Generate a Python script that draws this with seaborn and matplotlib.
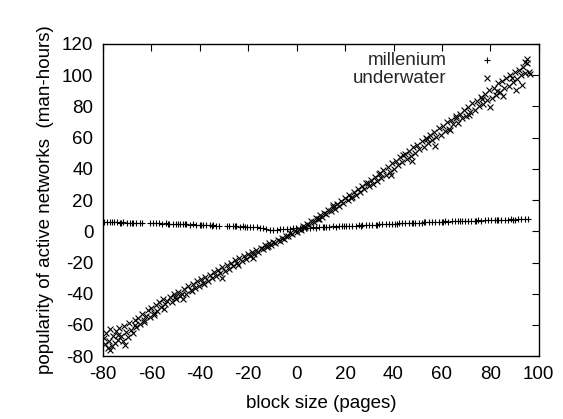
import numpy as np
import pandas as pd
import matplotlib
matplotlib.use("Agg")
import matplotlib.pyplot as plt
import seaborn as sns

# ------------------------------------------
# data
# ------------------------------------------
MILL_X = [-79.5, -78.2, -77.0, -75.6, -74.1, -73.0, -71.8, -70.2, -69.0, -67.5,
          -66.3, -64.9, -63.8, -60.7, -59.4, -58.0, -56.8, -55.5, -54.0, -52.6,
          -51.3, -50.0, -48.4, -47.1, -45.8, -44.2, -43.0, -41.5, -40.1, -38.8,
          -37.4, -36.0, -34.7, -33.2, -32.1, -28.6, -27.8, -26.3, -24.9, -23.5,
          -22.2, -20.7, -19.4, -18.0, -16.6, -15.2, -13.9, -12.5, -11.0, -9.7,
          -8.3, -7.0, -5.6, -4.2, -2.9, -1.5, -0.2, 1.2, 2.5, 3.9,
          5.3, 6.6, 8.0, 9.4, 10.7, 12.1, 13.5, 14.8, 16.2, 17.6,
          18.9, 20.3, 21.7, 23.0, 24.4, 25.8, 27.1, 28.5, 29.9, 31.2,
          32.6, 34.0, 35.3, 36.7, 38.1, 39.4, 40.8, 42.2, 43.5, 44.9,
          46.3, 47.6, 49.0, 50.4, 51.7, 53.1, 54.5, 55.8, 57.2, 58.6,
          59.9, 61.3, 62.7, 64.0, 65.4, 66.8, 68.1, 69.5, 70.9, 72.2,
          73.6, 75.0, 76.3, 77.7, 79.1, 80.4, 81.8, 83.2, 84.5, 85.9,
          87.3, 88.6, 90.0, 91.4, 92.7, 94.1, 95.5,
          -76.3, -72.4, -68.1, -53.3, -49.2, -46.0, -39.6, -35.1, -25.5, -21.4,
          11.3, 19.6, 26.4, 33.0, 41.4, 48.2, 52.5, 60.6, 67.3, 74.2, 82.6, 89.3]
MILL_Y = [6.1, 5.8, 6.0, 5.7, 5.9, 5.6, 5.8, 5.4, 5.6, 5.3,
          5.5, 5.2, 5.4, 5.1, 5.3, 5.0, 5.2, 4.8, 5.0, 4.7,
          4.9, 4.6, 4.8, 4.4, 4.6, 4.3, 4.5, 4.1, 4.3, 4.0,
          4.1, 3.8, 3.9, 3.6, 3.7, 3.3, 3.5, 3.1, 3.3, 2.9,
          3.1, 2.7, 2.8, 2.5, 2.6, 2.2, 2.3, 1.6, 1.1, 0.7,
          0.9, 1.3, 1.5, 1.7, 1.6, 1.9, 2.0, 2.1, 2.0, 2.3,
          2.2, 2.5, 2.4, 2.7, 2.6, 2.9, 2.8, 3.1, 3.0, 3.3,
          3.2, 3.5, 3.4, 3.7, 3.6, 3.9, 3.8, 4.1, 4.0, 4.3,
          4.2, 4.5, 4.4, 4.7, 4.6, 4.9, 4.8, 5.1, 5.0, 5.3,
          5.2, 5.5, 5.3, 5.6, 5.5, 5.8, 5.7, 6.0, 5.9, 6.2,
          6.0, 6.3, 6.2, 6.5, 6.4, 6.6, 6.5, 6.8, 6.7, 6.9,
          6.8, 7.1, 6.9, 7.2, 7.0, 7.3, 7.2, 7.4, 7.3, 7.5,
          7.4, 7.6, 7.5, 7.7, 7.6, 7.8, 7.7,
          5.9, 5.5, 5.4, 4.9, 4.7, 4.4, 4.1, 3.7, 3.2, 2.8,
          2.9, 3.4, 3.7, 4.3, 4.8, 5.4, 5.8, 6.1, 6.6, 6.9, 7.4, 7.5]

UNDER_X = [-79.8, -79.2, -78.9, -78.1, -77.6, -77.0, -76.4, -75.9, -75.1, -74.6,
           -73.8, -73.2, -72.5, -71.9, -71.2, -70.6, -69.8, -69.1, -68.4, -67.7,
           -66.9, -66.2, -65.5, -64.7, -63.9, -63.1, -62.4, -61.6, -60.8, -60.0,
           -59.1, -58.3, -57.6, -56.8, -55.9, -55.1, -54.2, -53.4, -52.5, -51.7,
           -50.8, -49.9, -49.0, -48.2, -47.3, -46.4, -45.6, -44.7, -43.8, -42.9,
           -42.1, -41.2, -40.3, -39.5, -38.6, -37.7, -36.8, -35.9, -35.1, -34.2,
           -33.3, -32.4, -31.6, -30.7, -29.8, -28.9, -28.1, -27.2, -26.3, -25.4,
           -24.6, -23.7, -22.8, -21.9, -21.0, -20.2, -19.3, -18.4, -17.5, -16.7,
           -15.8, -14.9, -14.0, -13.2, -12.3, -11.4, -10.5, -9.7, -8.8, -7.9,
           -7.0, -6.2, -5.3, -4.4, -3.5, -2.7, -1.8, -0.9, 0.0, 0.8,
           1.7, 2.6, 3.5, 4.3, 5.2, 6.1, 7.0, 7.8, 8.7, 9.6,
           10.5, 11.3, 12.2, 13.1, 14.0, 14.8, 15.7, 16.6, 17.5, 18.3,
           19.2, 20.1, 21.0, 21.8, 22.7, 23.6, 24.5, 25.3, 26.2, 27.1,
           28.0, 28.8, 29.7, 30.6, 31.5, 32.3, 33.2, 34.1, 35.0, 35.8,
           36.7, 37.6, 38.5, 39.3, 40.2, 41.1, 42.0, 42.8, 43.7, 44.6,
           45.5, 46.3, 47.2, 48.1, 49.0, 49.8, 50.7, 51.6, 52.5, 53.3,
           54.2, 55.1, 56.0, 56.8, 57.7, 58.6, 59.5, 60.3, 61.2, 62.1,
           63.0, 63.8, 64.7, 65.6, 66.5, 67.3, 68.2, 69.1, 70.0, 70.8,
           71.7, 72.6, 73.5, 74.3, 75.2, 76.1, 77.0, 77.8, 78.7, 79.6,
           80.5, 81.3, 82.2, 83.1, 84.0, 84.8, 85.7, 86.6, 87.5, 88.3,
           89.2, 90.1, 91.0, 91.8, 92.7, 93.6, 94.5, 95.0, 95.3, 96.0,
           -77.3, -74.0, -70.9, -67.0, -62.9, -58.8, -54.7, -50.3, -46.9, -43.1,
           -38.2, -31.0, -24.2, -17.9, -11.9, 3.0, 9.1, 15.2, 22.4, 29.3,
           34.6, 38.9, 44.0, 47.8, 53.8, 57.2, 63.4, 66.0, 71.2, 76.6,
           80.0, 82.7, 85.3, 88.8, 90.6, 93.1, 96.4, 94.2]
UNDER_Y = [-68.5, -72.0, -65.0, -74.5, -70.1, -62.8, -73.2, -67.0, -71.4, -64.1,
           -69.6, -61.9, -66.8, -70.3, -60.5, -64.7, -67.9, -58.6, -63.0, -65.2,
           -57.1, -61.4, -55.3, -59.6, -52.8, -56.9, -54.0, -50.7, -55.1, -49.2,
           -52.6, -47.0, -50.9, -45.3, -48.7, -43.6, -46.8, -44.9, -42.1, -45.4,
           -40.3, -43.2, -38.7, -41.5, -39.9, -36.8, -40.1, -35.2, -37.6, -33.9,
           -36.4, -32.0, -34.8, -30.6, -33.1, -29.2, -31.7, -27.8, -30.0, -26.1,
           -28.5, -24.7, -26.9, -23.0, -25.3, -21.6, -23.9, -20.2, -22.1, -18.7,
           -20.6, -17.3, -19.0, -15.8, -17.5, -14.4, -16.1, -13.0, -14.6, -11.7,
           -13.1, -10.4, -11.6, -9.1, -10.2, -7.8, -8.9, -6.6, -7.5, -5.3,
           -6.1, -4.0, -4.8, -2.7, -3.3, -1.4, -1.9, 0.1, -0.4, 1.6,
           1.1, 3.2, 2.7, 4.9, 4.3, 6.6, 6.0, 8.4, 7.7, 10.2,
           9.4, 12.0, 11.1, 13.9, 12.8, 15.8, 14.6, 17.7, 16.3, 19.6,
           18.1, 21.5, 19.9, 23.4, 21.7, 25.4, 23.5, 27.3, 25.3, 29.2,
           27.0, 31.2, 28.9, 33.1, 30.6, 35.1, 32.5, 36.9, 34.2, 39.0,
           36.1, 41.4, 38.0, 43.6, 40.1, 45.2, 42.6, 47.9, 44.1, 49.6,
           46.5, 51.3, 48.4, 54.0, 50.2, 55.6, 52.9, 57.8, 54.1, 59.5,
           56.8, 61.9, 58.3, 63.5, 60.7, 66.1, 62.0, 67.4, 64.3, 70.0,
           65.8, 71.6, 68.5, 73.9, 69.7, 75.2, 72.4, 78.0, 73.6, 79.4,
           76.2, 82.1, 77.5, 83.6, 80.3, 86.0, 81.4, 87.8, 83.9, 90.4,
           85.2, 92.1, 87.6, 94.7, 89.1, 96.0, 91.8, 98.4, 93.2, 100.1,
           95.7, 102.3, 97.5, 103.6, 100.0, 105.2, 101.4, 110.5, 107.8, 102.2,
           -75.8, -66.2, -73.1, -60.3, -58.4, -53.5, -49.9, -41.8, -43.7, -38.1,
           -34.0, -30.2, -21.3, -16.8, -9.5, 2.0, 8.0, 16.9, 21.1, 30.9,
           37.5, 35.9, 48.8, 45.0, 58.9, 54.6, 65.1, 72.3, 74.8, 84.7,
           79.6, 89.8, 86.9, 97.9, 90.3, 93.8, 100.9, 108.6]

X_TICKS = [-80, -60, -40, -20, 0, 20, 40, 60, 80, 100]
Y_TICKS = [-80, -60, -40, -20, 0, 20, 40, 60, 80, 100, 120]

sns.set_theme(style="white")
plt.rcParams['font.family'] = ['Liberation Sans', 'DejaVu Sans']
plt.rcParams['axes.unicode_minus'] = False

fig = plt.figure(figsize=(5.63, 4.19), dpi=100)
ax = fig.add_axes([0.183, 0.150, 0.774, 0.745])

sns.scatterplot(x=MILL_X, y=MILL_Y, marker='+', color='black', s=24,
                linewidth=0.8, label='millenium', ax=ax)
sns.scatterplot(x=UNDER_X, y=UNDER_Y, marker='x', color='black', s=18,
                linewidth=0.8, label='underwater', ax=ax)

ax.set_xlim(-80, 100)
ax.set_ylim(-80, 120)
ax.set_xticks(X_TICKS)
ax.set_yticks(Y_TICKS)
ax.tick_params(direction='in', length=5, width=0.8, top=True, right=True,
               labelsize=13.5, colors='black', pad=7)
for sp in ax.spines.values():
    sp.set_color('black')
    sp.set_linewidth(1.0)

ax.set_xlabel('block size (pages)', fontsize=13.5, color='black', labelpad=9)
ax.set_ylabel('popularity of active networks  (man-hours)', fontsize=13.5,
              color='black', labelpad=6)

ax.legend(loc='upper right', bbox_to_anchor=(0.95, 1.01), frameon=False,
          markerfirst=False, fontsize=13.5, handletextpad=1.17,
          labelspacing=0.05, borderaxespad=0.2)

plt.savefig('out.png', dpi=100)
plt.close()
